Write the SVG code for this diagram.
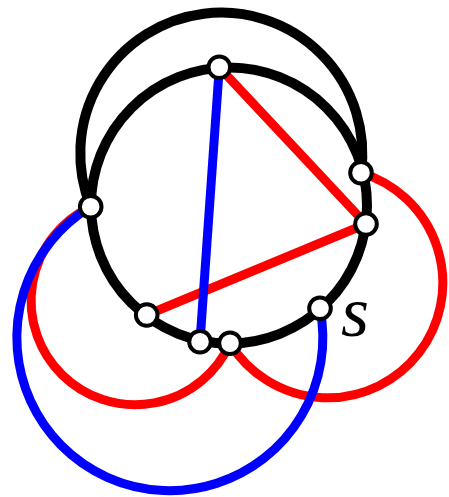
<svg xmlns="http://www.w3.org/2000/svg" width="449" height="497" viewBox="0 0 449 497">
<style>
.blk{fill:none;stroke:#000;stroke-width:10}
.red{fill:none;stroke:#f00;stroke-width:9}
.blu{fill:none;stroke:#00f;stroke-width:9}
.node circle{fill:#fff;stroke:#000;stroke-width:4}
.lbl{font-family:"Liberation Serif",serif;font-style:italic;font-size:72px;fill:#000}
</style>
<rect width="449" height="497" fill="#fff"/>
<g id="connectors">
<circle class="blk" cx="229" cy="205.5" r="138"/>
<path class="blk" d="M90.7,206.7 A141,141 0 1 1 361,172.7"/>
<path class="red" d="M219.3,67.3 L366,224 L146.7,315"/>
<path class="red" d="M90.7,206.7 A104,104 0 1 0 230,343.3"/>
<path class="red" d="M361,172.7 A115,115 0 1 1 230,343.3"/>
<path class="blu" d="M219.3,67.3 L200,341.7"/>
<path class="blu" d="M90.7,206.7 A153,153 0 1 0 320,308.3"/>
</g>
<g id="nA" class="node"><circle cx="219.3" cy="67.3" r="10.8"/></g>
<g id="nB" class="node"><circle cx="90.7" cy="206.7" r="10.8"/></g>
<g id="nC" class="node"><circle cx="361" cy="172.7" r="10.8"/></g>
<g id="nD" class="node"><circle cx="366" cy="224" r="10.8"/></g>
<g id="nE" class="node"><circle cx="146.7" cy="315" r="10.8"/></g>
<g id="nF" class="node"><circle cx="200" cy="341.7" r="10.8"/></g>
<g id="nG" class="node"><circle cx="230" cy="343.3" r="10.8"/></g>
<g id="nH" class="node"><circle cx="320" cy="308.3" r="10.8"/></g>
<text class="lbl" x="341" y="336">s</text>
</svg>
